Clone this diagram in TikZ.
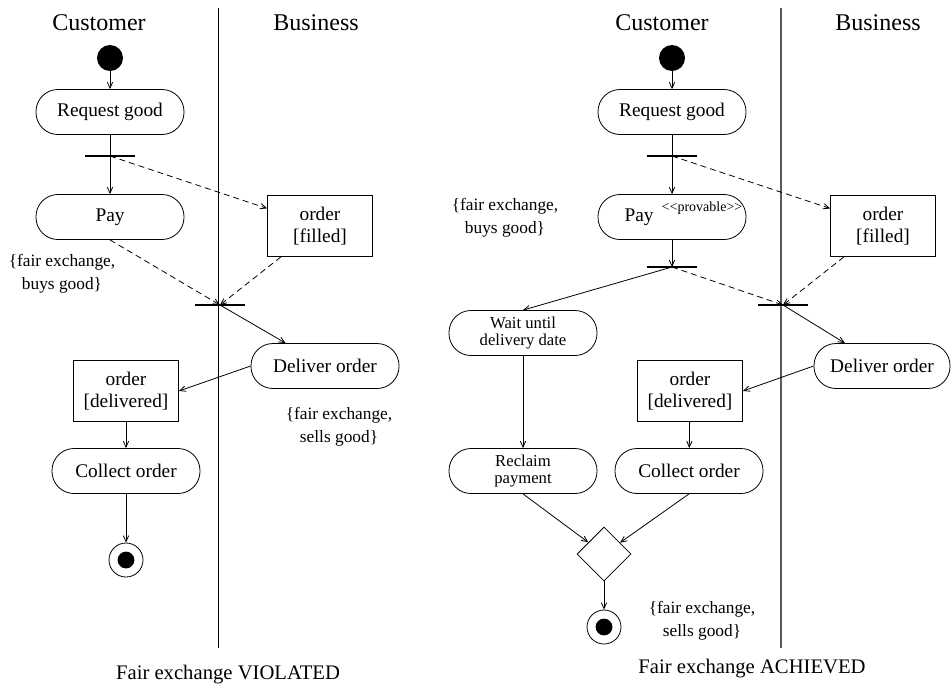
\documentclass[tikz,border=0pt]{standalone}
\usepackage{fontspec}
\setmainfont{Liberation Serif}
\usetikzlibrary{arrows.meta,shapes.geometric}
\begin{document}
\begin{tikzpicture}[x=0.75pt,y=-0.75pt,
 >={Straight Barb[length=4.5pt,width=4pt]},
 line width=0.6pt,
 act/.style={draw, rectangle, rounded corners=16.5pt, minimum width=111pt, minimum height=33.75pt, inner sep=1pt, font=\fontsize{14.5}{16}\selectfont, align=center},
 actsm/.style={act, font=\fontsize{12.5}{13}\selectfont},
 objbox/.style={draw, rectangle, minimum width=78.75pt, minimum height=45.75pt, inner sep=1pt, align=center, font=\fontsize{14.5}{16.5}\selectfont},
 syncbar/.style={fill, rectangle, minimum width=37.5pt, minimum height=1.3pt, inner sep=0pt},
 initdot/.style={circle, fill, minimum size=19.5pt, inner sep=0pt},
 finaldot/.style={circle, draw, minimum size=25.5pt, inner sep=0pt, path picture={\fill (path picture bounding box.center) circle (6.3pt);}},
 decis/.style={diamond, draw, minimum width=40.5pt, minimum height=40.5pt, inner sep=0pt, aspect=1},
 lanetitle/.style={font=\fontsize{18}{20}\selectfont},
 note/.style={font=\fontsize{13}{17}\selectfont, align=center},
 caption/.style={font=\fontsize{15.5}{18}\selectfont},
 flow/.style={->},
 dflow/.style={->, dash pattern=on 4.5pt off 3pt},
]
\useasboundingbox (0,0) rectangle (952,686);

% ---------------- left diagram ----------------
\draw (218,8) -- (218,648);
\node[lanetitle] (t1) at (99,23) {Customer};
\node[lanetitle] (t2) at (316,23) {Business};

\node[initdot] (i1) at (110,58) {};
\node[act] (rq1) at (110,112) {Request good};
\node[syncbar] (f1) at (110,156) {};
\node[act] (pay1) at (110,217) {Pay};
\node[objbox] (of1) at (320,226) {order\\{[filled]}};
\node[syncbar] (j1) at (220,305) {};
\node[act] (del1) at (325,366) {Deliver order};
\node[objbox] (od1) at (126,391) {order\\{[delivered]}};
\node[act] (col1) at (126,471) {Collect order};
\node[finaldot] (fin1) at (126,560) {};

\node[note] (n1) at (62,274) {\{fair exchange,\\buys good\}};
\node[note] (n2) at (339,427) {\{fair exchange,\\sells good\}};
\node[caption] (c1) at (228,675) {Fair exchange VIOLATED};

\draw[flow] (i1) -- (rq1);
\draw (rq1.south) -- (f1.center);
\draw[flow] (f1.center) -- (pay1.north);
\draw[dflow] (f1.center) -- (of1);
\draw[dflow] (pay1.south) -- (j1.center);
\draw[dflow] (of1) -- (j1.center);
\draw[flow] (j1.center) -- (del1);
\draw[flow] (del1.west) -- (od1.east);
\draw[flow] (od1) -- (col1);
\draw[flow] (col1) -- (fin1);

% ---------------- right diagram ----------------
\draw[gray!70!black, line width=0.9pt] (781,8) -- (781,648);
\node[lanetitle] (t3) at (662,23) {Customer};
\node[lanetitle] (t4) at (878,23) {Business};

\node[initdot] (i2) at (672,58) {};
\node[act] (rq2) at (672,112) {Request good};
\node[syncbar] (f2) at (672,156) {};
\node[act,
  label={[font=\fontsize{14.5}{16}\selectfont, xshift=-24.75pt]center:Pay},
  label={[font=\fontsize{10.5}{12}\selectfont, xshift=22.5pt, yshift=6.5pt]center:<{}<provable>{}>}]
  (pay2) at (672,217) {};
\node[syncbar] (b2) at (672,267) {};
\node[objbox] (of2) at (883,226) {order\\{[filled]}};
\node[syncbar] (j2) at (783,305) {};
\node[actsm] (wait) at (523,333) {Wait until\\delivery date};
\node[act, minimum width=102pt] (del2) at (882,366) {Deliver order};
\node[objbox] (od2) at (690,391) {order\\{[delivered]}};
\node[actsm] (rec) at (523,471) {Reclaim\\payment};
\node[act] (col2) at (689,471) {Collect order};
\node[decis] (dia) at (604,554) {};
\node[finaldot] (fin2) at (604,627) {};

\node[note] (n3) at (505,218) {\{fair exchange,\\buys good\}};
\node[note] (n4) at (702,621) {\{fair exchange,\\sells good\}};
\node[caption] (c2) at (752,669) {Fair exchange ACHIEVED};

\draw[flow] (i2) -- (rq2);
\draw (rq2.south) -- (f2.center);
\draw[flow] (f2.center) -- (pay2.north);
\draw[dflow] (f2.center) -- (of2);
\draw[flow] (pay2.south) -- (b2.center);
\draw[flow] (b2.center) -- (wait.north);
\draw[dflow] (b2.center) -- (j2.center);
\draw[dflow] (of2) -- (j2.center);
\draw[flow] (j2.center) -- (del2);
\draw[flow] (del2.west) -- (od2.east);
\draw[flow] (od2) -- (col2);
\draw[flow] (wait) -- (rec);
\draw[flow] (rec.south) -- (dia);
\draw[flow] (col2.south) -- (dia);
\draw[flow] (dia) -- (fin2);
\end{tikzpicture}
\end{document}
